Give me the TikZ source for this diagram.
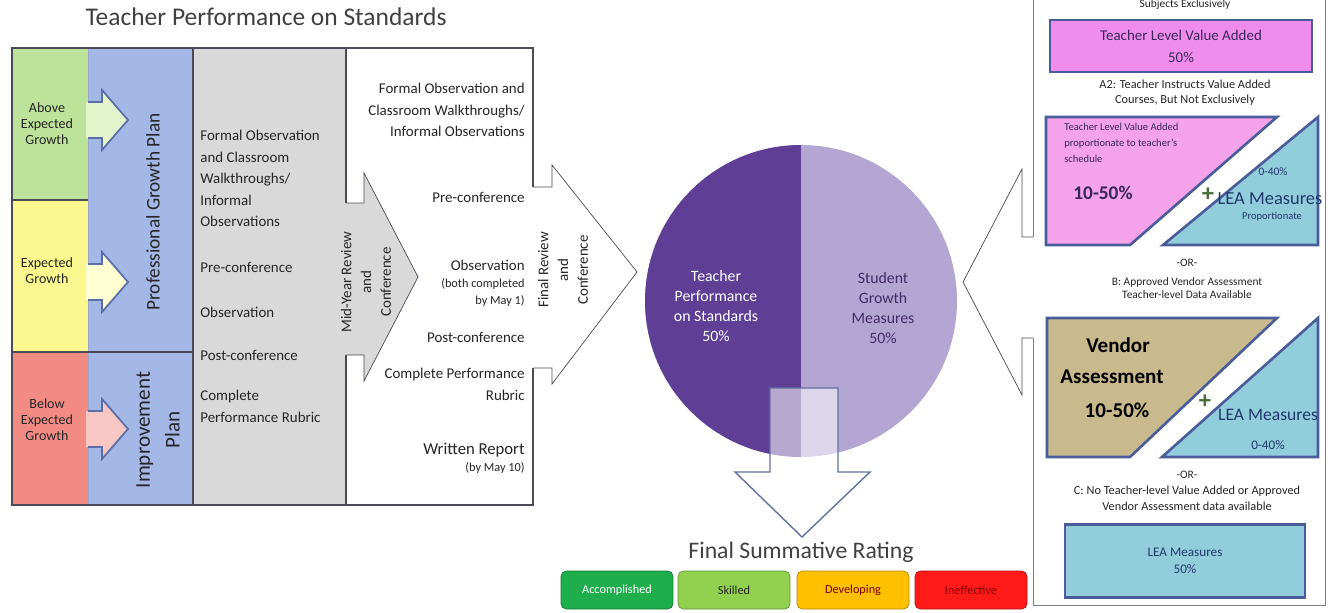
\documentclass[tikz,border=0pt]{standalone}
\usepackage{fontspec}
\setmainfont{Carlito}
\usepackage{xcolor}

\definecolor{lgreen}{HTML}{BDE29A}
\definecolor{lyellow}{HTML}{FBF88F}
\definecolor{lred}{HTML}{F38B85}
\definecolor{agreen}{HTML}{E2F4CC}
\definecolor{ayellow}{HTML}{FFFFD2}
\definecolor{ared}{HTML}{F8C6C3}
\definecolor{pgblue}{HTML}{A4B8E8}
\definecolor{colgray}{HTML}{D9D9D9}
\definecolor{arrowline}{HTML}{5A6EA8}
\definecolor{tableline}{HTML}{4A4A58}
\definecolor{txtdark}{HTML}{262626}
\definecolor{titlegray}{HTML}{404040}
\definecolor{darkpie}{HTML}{5E3F95}
\definecolor{lightpie}{HTML}{B4A6D3}
\definecolor{vapink}{HTML}{F08CEC}
\definecolor{trappink}{HTML}{F4A2EA}
\definecolor{leablue}{HTML}{92CDDC}
\definecolor{vendortan}{HTML}{C8BA8C}
\definecolor{shapeline}{HTML}{4A5C9A}
\definecolor{navytxt}{HTML}{1F3A6A}
\definecolor{plustxt}{HTML}{4B6B3B}
\definecolor{ratgreen}{HTML}{1EAE4B}
\definecolor{ratlgreen}{HTML}{92D050}
\definecolor{ratorange}{HTML}{FFC000}
\definecolor{ratred}{HTML}{FF1A1A}

\begin{document}
\begin{tikzpicture}[x=0.02cm, y=-0.02cm]
    % text styles
    \tikzstyle{txt}=[inner sep=0pt, text=txtdark, align=center]
    \tikzstyle{coltxt}=[txt, font=\fontsize{8.5}{12.2}\selectfont]
    \tikzstyle{tinytxt}=[txt, font=\fontsize{6.5}{7.5}\selectfont]
    % shape styles
    \tikzstyle{growtharrow}=[draw=arrowline, line width=1pt]
    \tikzstyle{panelshape}=[draw=shapeline, line width=1.5pt]
    \tikzstyle{rating}=[
      rectangle,
      rounded corners=3pt,
      minimum width=2.24cm,
      minimum height=0.76cm,
      font=\fontsize{7}{8}\selectfont
    ]

    \useasboundingbox (0,0) rectangle (1328,612);

    % Title
    \node[txt, text=titlegray, font=\fontsize{14.5}{16}\selectfont] (title) at (266,17) {Teacher Performance on Standards};

    % Column fills
    \fill[lgreen] (12,48) rectangle (88,200);
    \fill[lyellow] (12,200) rectangle (88,352);
    \fill[lred] (12,352) rectangle (88,505);
    \fill[pgblue] (88,48) rectangle (193,505);
    \fill[colgray] (193,48) rectangle (346,505);
    \fill[white] (346,48) rectangle (533,505);
    \draw[arrowline!60] (88,48) -- (88,505);

    % Growth arrows
    \fill[agreen] (86,102) -- (102,102) -- (102,90) -- (128,120) -- (102,150) -- (102,138) -- (86,138) -- cycle;
    \draw[growtharrow] (88,102) -- (102,102) -- (102,90) -- (128,120) -- (102,150) -- (102,138) -- (88,138);
    \fill[ayellow] (86,264) -- (102,264) -- (102,252) -- (128,282) -- (102,312) -- (102,300) -- (86,300) -- cycle;
    \draw[growtharrow] (88,264) -- (102,264) -- (102,252) -- (128,282) -- (102,312) -- (102,300) -- (88,300);
    \fill[ared] (86,411) -- (102,411) -- (102,399) -- (128,429) -- (102,459) -- (102,447) -- (86,447) -- cycle;
    \draw[growtharrow] (88,411) -- (102,411) -- (102,399) -- (128,429) -- (102,459) -- (102,447) -- (88,447);

    % Mid-year arrow
    \fill[colgray] (340,203) -- (364,203) -- (364,173) -- (418,277) -- (364,381) -- (364,355) -- (340,355) -- cycle;
    \draw[tableline] (346,203) -- (364,203) -- (364,173) -- (418,277) -- (364,381) -- (364,355) -- (346,355);

    % Final review arrow
    \fill[white] (528,187) -- (552,187) -- (552,165) -- (637,272) -- (552,384) -- (552,368) -- (528,368) -- cycle;
    \draw[tableline] (533,187) -- (552,187) -- (552,165) -- (637,272) -- (552,384) -- (552,368) -- (533,368);

    % Table lines
    \draw[tableline, line width=1.2pt] (533,187) -- (533,48) -- (12,48) -- (12,505) -- (533,505) -- (533,368);
    \draw[tableline, line width=1pt] (193,48) -- (193,505);
    \draw[tableline, line width=1pt] (346,48) -- (346,203);
    \draw[tableline, line width=1pt] (346,355) -- (346,505);
    \draw[tableline, line width=1pt] (12,200) -- (88,200);
    \draw[tableline, line width=1pt] (12,352) -- (193,352);

    % Growth labels
    \node[txt, font=\fontsize{8}{9.2}\selectfont] (above) at (47,124) {Above\\Expected\\Growth};
    \node[txt, font=\fontsize{8}{9.2}\selectfont] (expected) at (47,271) {Expected\\Growth};
    \node[txt, font=\fontsize{8}{9.2}\selectfont] (below) at (47,420) {Below\\Expected\\Growth};

    % Plans
    \node[txt, rotate=90, font=\fontsize{11}{13}\selectfont] (pgp) at (153,212) {Professional Growth Plan};
    \node[txt, rotate=90, font=\fontsize{12}{17}\selectfont] (ip) at (158,430) {Improvement\\Plan};

    % Gray column
    \node[coltxt, align=left, anchor=north west] (g1) at (200,130) {Formal Observation\\and Classroom\\Walkthroughs/\\Informal\\Observations};
    \node[coltxt, anchor=west] (g2) at (200,267) {Pre-conference};
    \node[coltxt, anchor=west] (g3) at (200,312) {Observation};
    \node[coltxt, anchor=west] (g4) at (200,355) {Post-conference};
    \node[coltxt, align=left, anchor=north west] (g5) at (200,390) {Complete\\Performance Rubric};

    % Mid-year review text
    \node[txt, rotate=90, font=\fontsize{8.5}{11.3}\selectfont] (midyear) at (366,282) {Mid-Year Review\\and\\Conference};

    % White column
    \node[coltxt, align=right, anchor=north east] (w1) at (525,83) {Formal Observation and\\Classroom Walkthroughs/\\Informal Observations};
    \node[coltxt, anchor=east] (w2) at (525,197) {Pre-conference};
    \node[coltxt, anchor=east] (w3) at (525,265) {Observation};
    \node[txt, align=right, anchor=north east, font=\fontsize{7}{9.5}\selectfont] (w4) at (525,278) {(both completed\\by May 1)};
    \node[coltxt, anchor=east] (w5) at (525,337) {Post-conference};
    \node[coltxt, align=right, anchor=north east] (w6) at (525,368) {Complete Performance\\Rubric};
    \node[txt, anchor=east, font=\fontsize{9.5}{11}\selectfont] (w7) at (525,450) {Written Report};
    \node[txt, anchor=east, font=\fontsize{7}{8}\selectfont] (w8) at (525,468) {(by May 10)};

    % Final review text
    \node[txt, rotate=90, font=\fontsize{8.5}{11.3}\selectfont] (finalrev) at (563,270) {Final Review\\and\\Conference};

    % Pie
    \fill[lightpie] (801,301) circle (3.12cm);
    \begin{scope}
      \clip (801,301) circle (3.12cm);
      \fill[darkpie] (640,140) rectangle (801,462);
    \end{scope}
    \node[txt, text=white, font=\fontsize{9}{11.5}\selectfont] (tps) at (716,306) {Teacher\\Performance\\on Standards\\50\%};
    \node[txt, text=darkpie!70!black, font=\fontsize{9}{11.5}\selectfont] (sgm) at (883,308) {Student\\Growth\\Measures\\50\%};

    % Down arrow
    \filldraw[fill=white, fill opacity=0.55, draw=arrowline!80!gray, line width=0.8pt] (770,388) -- (838,388) -- (838,472) -- (870,472) -- (802,537) -- (735,472) -- (770,472) -- cycle;

    % Final rating
    \node[txt, text=titlegray, font=\fontsize{13.5}{15}\selectfont] (final) at (801,552) {Final Summative Rating};
    \node[rating, fill=ratgreen, draw=ratgreen!70!black, text=white] (acc) at (617,590) {Accomplished};
    \node[rating, fill=ratlgreen, draw=ratlgreen!70!black, text=txtdark] (skl) at (734,590) {Skilled};
    \node[rating, fill=ratorange, draw=ratorange!70!black, text=red!50!black] (dev) at (853,590) {Developing};
    \node[rating, fill=ratred, draw=ratred!70!black, text=red!50!black] (ine) at (971,590) {Ineffective};

    % Student growth arrow and panel
    \fill[white] (1036,237) -- (1022,237) -- (1022,169) -- (963,282) -- (1022,395) -- (1022,338) -- (1036,338) -- cycle;
    \draw[tableline] (1033,237) -- (1022,237) -- (1022,169) -- (963,282) -- (1022,395) -- (1022,338) -- (1033,338);
    \draw[gray] (1033,-5) -- (1033,237);
    \draw[gray] (1033,338) -- (1033,605) -- (1325,605) -- (1325,-5);

    % A1
    \node[tinytxt] (a1) at (1185,5) {Subjects Exclusively};
    \node[txt, panelshape, fill=vapink, minimum width=5.24cm, minimum height=1.04cm, text=darkpie!60!black, font=\fontsize{8.5}{12.5}\selectfont] (vabox) at (1181,46) {Teacher Level Value Added\\50\%};

    % A2
    \node[txt, font=\fontsize{7}{8.5}\selectfont] (a2) at (1185,93) {A2: Teacher Instructs Value Added\\Courses, But Not Exclusively};
    \filldraw[panelshape, fill=trappink] (1046,117) -- (1277,117) -- (1130,245) -- (1046,245) -- cycle;
    \filldraw[panelshape, fill=leablue] (1163,245) -- (1318,117) -- (1318,245) -- cycle;
    \node[txt, align=left, anchor=north west, text=darkpie!60!black, font=\fontsize{6}{9}\selectfont] (a2txt) at (1064,123) {Teacher Level Value Added\\proportionate to teacher's\\schedule};
    \node[txt, text=darkpie!60!black, font=\bfseries\fontsize{11}{12}\selectfont] (a2pct) at (1103,193) {10-50\%};
    \node[txt, text=plustxt, font=\bfseries\fontsize{14}{14}\selectfont] (a2plus) at (1208,195) {+};
    \node[txt, text=navytxt, font=\fontsize{6.5}{7}\selectfont] (a2lpct) at (1273,172) {0-40\%};
    \node[txt, text=navytxt, font=\fontsize{10.5}{12}\selectfont] (a2lea) at (1270,199) {LEA Measures};
    \node[txt, text=navytxt, font=\fontsize{6}{7}\selectfont] (a2prop) at (1272,217) {Proportionate};

    % B
    \node[tinytxt] (or1) at (1187,263) {-OR-};
    \node[tinytxt] (b) at (1187,288) {B: Approved Vendor Assessment\\Teacher-level Data Available};
    \filldraw[panelshape, fill=vendortan] (1047,318) -- (1277,318) -- (1130,457) -- (1047,457) -- cycle;
    \filldraw[panelshape, fill=leablue] (1162,457) -- (1318,318) -- (1318,457) -- cycle;
    \node[txt, text=black, font=\bfseries\fontsize{12}{13}\selectfont] (vend) at (1118,345) {Vendor};
    \node[txt, text=black, font=\bfseries\fontsize{12}{13}\selectfont] (assm) at (1112,377) {Assessment};
    \node[txt, text=black, font=\bfseries\fontsize{12}{13}\selectfont] (bpct) at (1117,410) {10-50\%};
    \node[txt, text=plustxt, font=\bfseries\fontsize{14}{14}\selectfont] (bplus) at (1205,402) {+};
    \node[txt, text=navytxt, font=\fontsize{10}{12}\selectfont] (blea) at (1268,415) {LEA Measures};
    \node[txt, text=navytxt, font=\fontsize{7.5}{8}\selectfont] (blpct) at (1268,445) {0-40\%};

    % C
    \node[tinytxt] (or2) at (1187,475) {-OR-};
    \node[txt, font=\fontsize{7}{9}\selectfont] (c) at (1187,498) {C: No Teacher-level Value Added or Approved\\Vendor Assessment data available};
    \node[txt, panelshape, fill=leablue, minimum width=4.8cm, minimum height=1.46cm, text=navytxt, font=\fontsize{7.5}{10}\selectfont] (leabox) at (1185,561) {LEA Measures\\50\%};
\end{tikzpicture}
\end{document}
